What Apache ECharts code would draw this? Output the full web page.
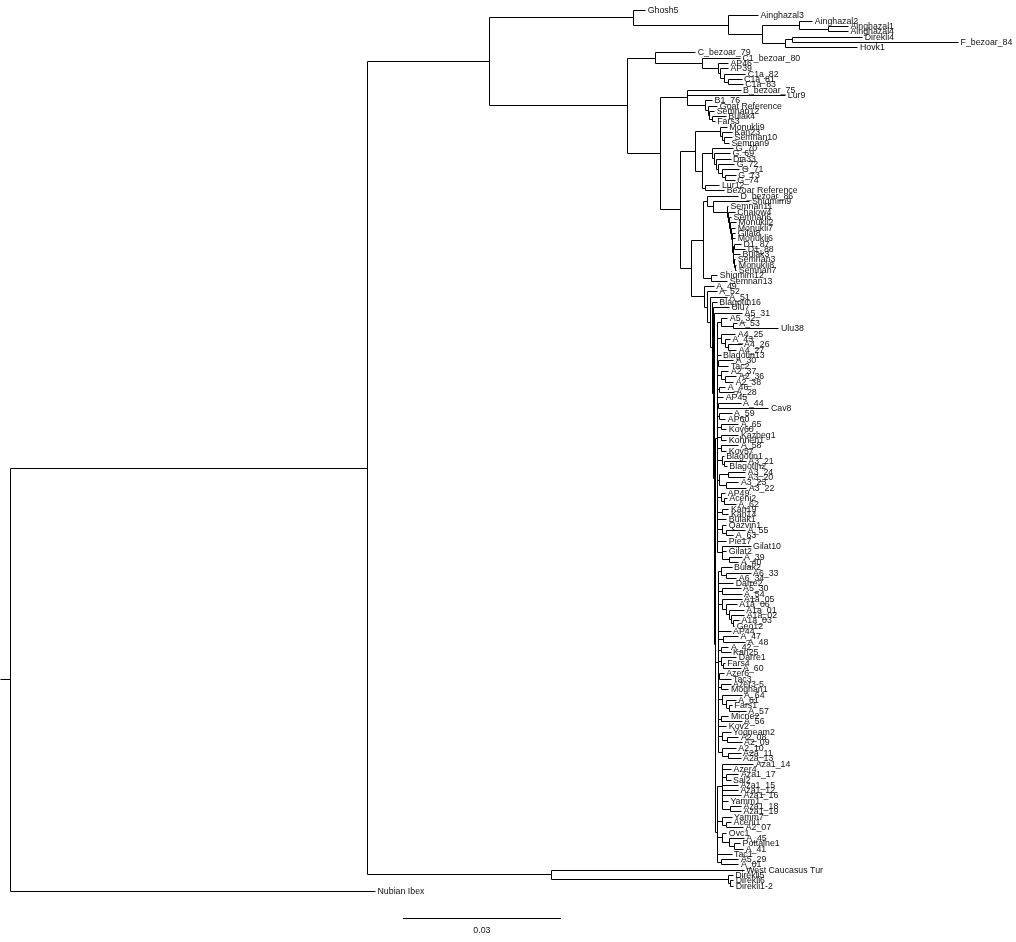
<!DOCTYPE html>
<html>
<head>
<meta charset="utf-8">
<script src="https://cdn.jsdelivr.net/npm/echarts@6/dist/echarts.min.js"></script>
<style>
html,body{margin:0;padding:0;background:#fff;}
#chart{width:1016px;height:942px;}
</style>
</head>
<body>
<div id="chart"></div>
<script>
// ---------- DATA: branch lengths (substitutions / site) ----------
const cladeGhosh = "(Ghosh5:0.0023,(Ainghazal3:0.0057,((Ainghazal2:0.0025,(Ainghazal1:0.0038,Ainghazal4:0.0038):0.0055):0.0070,((Direkli4:0.0133,F_bezoar_84:0.0315):0.0013,Hovk1:0.0137):0.0044):0.0065):0.0180)";
const cladeC = "(C_bezoar_79:0.0076,(C1_bezoar_80:0.0072,(AP46:0.0019,(AP39:0.0015,(C1a_82:0.0040,(C1a_81:0.0025,C1a_83:0.0027):0.0008):0.0008):0.0004):0.0030):0.0089)";
const cladeB = "(B_bezoar_75:0.0101,Lur9:0.0186,(B1_76:0.0013,(Goat Reference:0.0017,(Semnan12:0.0009,(Bulak4:0.0027,Fars3:0.0006):0.0004):0.0002):0.0006):0.0034)";
const cladeG = "((Monukli9:0.0013,(Kan23:0.0019,(Semnan10:0.0015,Semnan9:0.0009):0.0004):0.0004):0.0047,((G_70:0.0040,(G_69:0.0030,(Dia33:0.0027,(G_72:0.0030,(G_71:0.0034,(G_73:0.0021,G_74:0.0019):0.0006):0.0006):0.0004):0.0004):0.0004):0.0019,(Lur12:0.0027,Bezoar Reference:0.0036):0.0006):0.0013)";
const cladeSemnan = "(Semnan11:0.0002,(Chalow4:0.0013,(Semnan6:0.0004,(Monukli2:0.0011,(Monukli7:0.0008,(Gilat8:0.0007,(Monukli6:0.0006,((D1_87:0.0013,D1_88:0.0021):0.0003,(Bulak3:0.0013,(Semnan3:0.0002,(Monukli8:0.0002,Semnan7:0.0002):0.0002):0.0002):0.0001):0.0001):0.0001):0.0001):0.0002):0.0002):0.0002):0.0002)";
const cladeD = "((D_bezoar_86:0.0059,(Shiqmim9:0.0070," + cladeSemnan + ":0.0027):0.0011):0.0008,(Shiqmim12:0.0013,Semnan13:0.0032):0.0015)";
const cladeA1 = "((A5_32:0.0013,(A_53:0.0008,Ulu38:0.0087):0.0023):0.0006,(A4_25:0.0028,(A_43:0.0009,(A4_26:0.0025,A4_27:0.0015):0.0006):0.0009):0.0006,Blagotin13:0.0006,(A_30:0.0028,Tac2:0.0019):0.0002,(A2_37:0.0015,(A2_36:0.0021,A2_38:0.0015):0.0009):0.0006,(A_46:0.0011,A_28:0.0027):0.0004,AP45:0.0011,(A_44:0.0042,Cav8:0.0095):0.0002,(A_59:0.0023,AP60:0.0011):0.0004,(A_65:0.0034,Kov60:0.0011):0.0006,(Kazbeg1:0.0034,Kohneh1:0.0011):0.0006,(A_58:0.0034,Kov57:0.0011):0.0006,(Blagotin1:0.0004,(A3_21:0.0042,Blagotin2:0.0006):0.0004):0.0008,((A3_24:0.0032,A3_20:0.0032):0.0017,(A3_23:0.0023,A3_22:0.0038):0.0013):0.0004,(AP49:0.0009,(Aceni2:0.0006,A_62:0.0023):0.0006):0.0006,(Kan19:0.0013,Kan14:0.0013):0.0008,Bulak1:0.0017,(Qazvin1:0.0009,(A_55:0.0036,A_63:0.0013):0.0009):0.0008,Pie17:0.0017,(Gilat10:0.0055,Gilat2:0.0009,(A_39:0.0023,A_40:0.0017):0.0015):0.0008)";
const cladeA2 = "((Bulak2:0.0021,(A6_33:0.0046,A6_34:0.0019):0.0011):0.0004,Darre2:0.0028,(A5_30:0.0036,A_54:0.0038):0.0006,(A1a_05:0.0038,(A1a_06:0.0021,(A1a_01:0.0028,(A1a_02:0.0025,(A1a_03:0.0011,Geo12:0.0002):0.0004):0.0004):0.0006):0.0008):0.0006,AP44:0.0023,(A_47:0.0028,A_48:0.0042):0.0009,(A_42:0.0015,Kan25:0.0019):0.0004,(Darre1:0.0030,(Fars4:0.0004,A_60:0.0034):0.0004):0.0004,(Azer6:0.0008,Tac3:0.0021):0.0002,(Azer3-5:0.0019,Moghan1:0.0015):0.0004,(A_64:0.0038,(A_61:0.0019,(Fars1:0.0006,A_57:0.0032):0.0006):0.0008):0.0006,(Micne2:0.0015,A_56:0.0040):0.0004,Kov2:0.0015,(Yoqneam2:0.0017,(A2_08:0.0021,A2_09:0.0027):0.0011):0.0006,(A2_10:0.0027,(A2a_11:0.0023,A2a_13:0.0023):0.0013):0.0006)";
const cladeA3 = "((Aza1_14:0.0059,Azer4:0.0017,(Aza1_17:0.0023,Sal2:0.0008):0.0008,Aza1_15:0.0030,Aza1_12:0.0030,Aza1_16:0.0036,Yamm1:0.0011,(Aza1_18:0.0021,Aza1_19:0.0021):0.0015):0.0009,(Yamm7:0.0019,(Aceni1:0.0009,A2_07:0.0032):0.0009):0.0008,(Ovc1:0.0009,(A_45:0.0027,(Pottaine1:0.0011,A_41:0.0017):0.0009):0.0015):0.0008,Tac1:0.0027,(A5_29:0.0034,A_01:0.0034):0.0006)";
const cladeA = "(A_49:0.0019,(A_52:0.0019,(A_51:0.0032,(Blagotin16:0.0009,(Ulu7:0.0030,(A5_31:0.0053,(" + cladeA1 + ":0.0004," + cladeA2 + ":0.0006," + cladeA3 + ":0.0004):0.0002):0.0002):0.0002):0.0004):0.0006):0.0006)";
const cladeTur = "(West Caucasus Tur:0.0366,(Direkli5:0.0009,(Direkli6:0.0006,Direkli1-2:0.0006):0.0004):0.0336)";
const outgroup = "Nubian Ibex:0.0693";
const rootEdge = 0.0019;

const treeNewick =
  "(((" + cladeGhosh + ":0.0273,(" + cladeC + ":0.0053,(" + cladeB + ":0.0051,(" + cladeG + ":0.0028,(" +
  cladeD + ":0.0023," + cladeA + ":0.0025):0.0019):0.0038):0.0063):0.0262):0.0232," + cladeTur + ":0.0349):0.0678," +
  outgroup + "):" + rootEdge + ";";

const scaleBarLength = 0.03;
const scaleBarLabel = "0.03";

// ---------- layout constants ----------
const scaleBarStart = 0.0746;   // x position of scale bar (axis units)
const scaleBarRow = 171.1;      // row position of scale bar
const scaleLabelRow = 173.5;

// ---------- parse Newick ----------
function parseNewick(s) {
  let i = 0;
  function node() {
    const n = { children: [], name: "", len: 0 };
    if (s[i] === "(") {
      i++;
      n.children.push(node());
      while (s[i] === ",") { i++; n.children.push(node()); }
      i++; // ')'
    }
    let name = "";
    while (i < s.length && "(),:;".indexOf(s[i]) < 0) name += s[i++];
    n.name = name.trim();
    if (s[i] === ":") {
      i++;
      let num = "";
      while (i < s.length && /[0-9.eE+\-]/.test(s[i])) num += s[i++];
      n.len = parseFloat(num);
    }
    return n;
  }
  return node();
}

const tree = parseNewick(treeNewick);
const segments = [];
const tips = [];
let row = 0;
function place(n, depth) {
  n.x = depth;
  if (!n.children.length) {
    n.y = row++;
    tips.push([n.x, n.y, n.name]);
  } else {
    n.children.forEach(c => place(c, depth + c.len));
    const ys = n.children.map(c => c.y);
    n.y = ys.reduce((a, b) => a + b, 0) / ys.length;
    segments.push([n.x, Math.min.apply(null, ys), n.x, Math.max.apply(null, ys)]);
  }
}
place(tree, 0);
function horiz(n, px) {
  segments.push([px, n.y, n.x, n.y]);
  n.children.forEach(c => horiz(c, n.x));
}
horiz(tree, -tree.len);

const nRows = 175;
const rowPx = 881 / 166;

const chart = echarts.init(document.getElementById("chart"));
const snap = v => Math.round(v) + 0.5;
const font = '8.8px "Liberation Sans", Arial, sans-serif';

chart.setOption({
  animation: false,
  backgroundColor: "#ffffff",
  grid: { left: 0, top: 10, width: 1016, height: nRows * rowPx },
  xAxis: { type: "value", min: -tree.len, max: 0.1910, show: false },
  yAxis: { type: "value", min: 0, max: nRows, inverse: true, show: false },
  series: [
    {
      type: "custom",
      clip: false,
      data: segments,
      encode: { x: [0, 2], y: [1, 3] },
      renderItem: function (params, api) {
        const a = api.coord([api.value(0), api.value(1)]);
        const b = api.coord([api.value(2), api.value(3)]);
        return {
          type: "line",
          shape: { x1: snap(a[0]), y1: snap(a[1]), x2: snap(b[0]), y2: snap(b[1]) },
          style: { stroke: "#000", lineWidth: 1 }
        };
      }
    },
    {
      type: "custom",
      clip: false,
      data: tips.map(t => [t[0], t[1]]),
      encode: { x: 0, y: 1 },
      renderItem: function (params, api) {
        const p = api.coord([api.value(0), api.value(1)]);
        return {
          type: "text",
          x: p[0] + 2.5,
          y: snap(p[1]),
          style: { text: tips[params.dataIndex][2], fill: "#111", font: font, align: "left", verticalAlign: "middle" }
        };
      }
    },
    {
      type: "custom",
      clip: false,
      data: [[scaleBarStart, scaleBarRow, scaleBarStart + scaleBarLength, scaleBarRow]],
      encode: { x: [0, 2], y: [1, 3] },
      renderItem: function (params, api) {
        const a = api.coord([api.value(0), api.value(1)]);
        const b = api.coord([api.value(2), api.value(3)]);
        const c = api.coord([(api.value(0) + api.value(2)) / 2, scaleLabelRow]);
        return {
          type: "group",
          children: [
            { type: "line", shape: { x1: a[0], y1: snap(a[1]), x2: b[0], y2: snap(b[1]) }, style: { stroke: "#000", lineWidth: 1 } },
            { type: "text", x: c[0], y: c[1], style: { text: scaleBarLabel, fill: "#111", font: font, align: "center", verticalAlign: "middle" } }
          ]
        };
      }
    }
  ]
});
</script>
</body>
</html>
